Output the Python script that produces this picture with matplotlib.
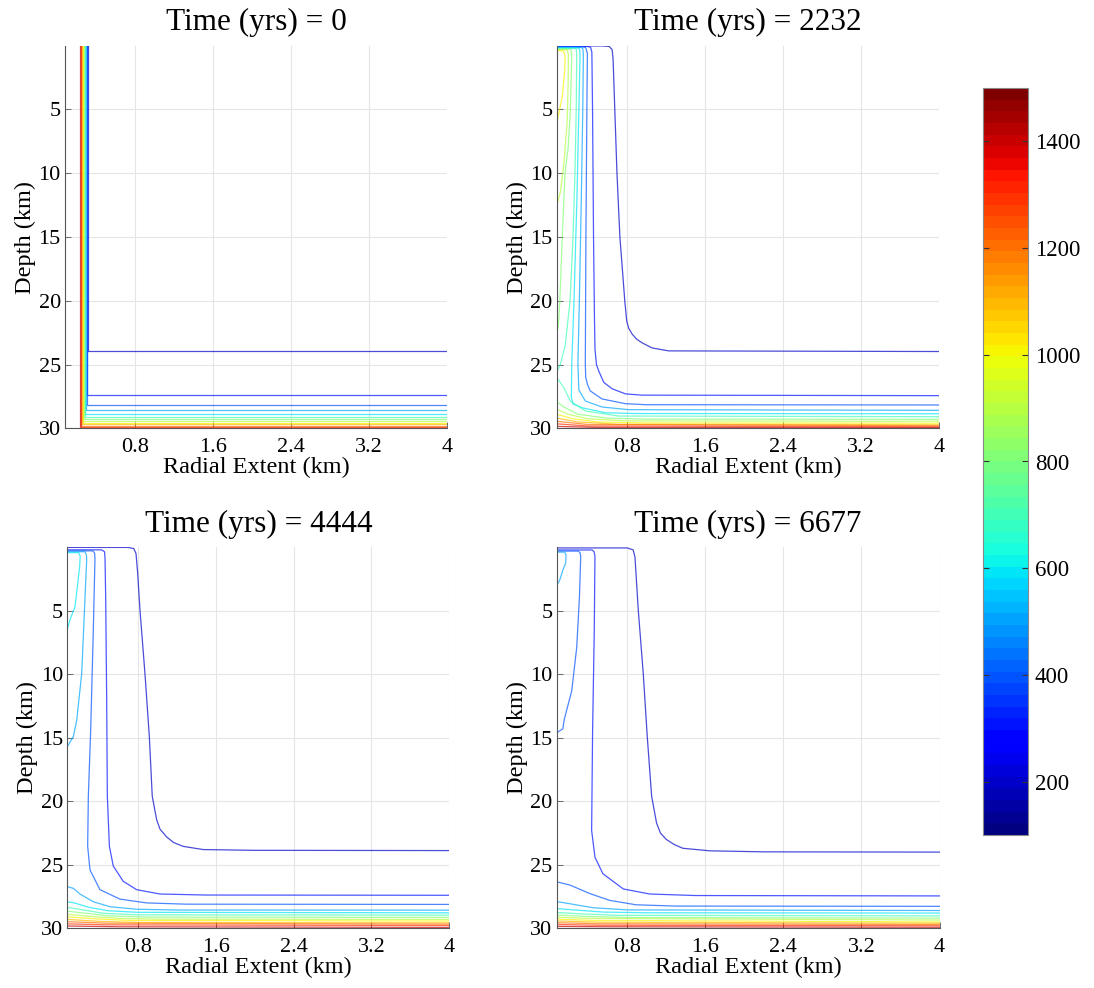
import matplotlib
matplotlib.use('Agg')
import matplotlib.pyplot as plt
from matplotlib.colors import Normalize
from matplotlib.cm import ScalarMappable

plt.rcParams['font.family'] = ['Liberation Serif', 'DejaVu Serif']

# temperature contour levels and colour scale
LEVELS = [200, 300, 400, 500, 600, 700, 800, 900, 1000, 1100, 1200, 1300, 1400]
CLIM = (100, 1500)
CBAR_TICKS = [200, 400, 600, 800, 1000, 1200, 1400]
TIMES = [0, 2232, 4444, 6677]
XTICKS = [0.8, 1.6, 2.4, 3.2, 4]
YTICKS = [5, 10, 15, 20, 25, 30]

# t = 0: every isotherm is an L (dike wall, then flat layer at depth)
T0_WALL_X = [0.320, 0.313, 0.306, 0.299, 0.292, 0.285, 0.278,
             0.271, 0.264, 0.257, 0.250, 0.243, 0.236]
T0_FLAT_D = [23.9, 27.35, 28.15, 28.55, 28.85, 29.1, 29.3,
             29.45, 29.6, 29.7, 29.8, 29.88, 29.95]

# t = 2232 yrs: (level, radial km, depth km)
T2232_LINES = [
    (200, [0.083, 0.55, 0.62, 0.65, 0.66, 0.70, 0.73, 0.78, 0.80, 0.82, 0.854, 0.90, 0.957, 1.06, 1.23, 4.0],
          [0.02, 0.02, 0.06, 0.3, 1.0, 10, 15, 20, 21.6, 22.15, 22.6, 23.0, 23.3, 23.7, 23.93, 23.98]),
    (300, [0.083, 0.40, 0.43, 0.443, 0.45, 0.46, 0.47, 0.475, 0.49, 0.513, 0.565, 0.65, 0.786, 0.957, 4.0],
          [0.06, 0.06, 0.12, 0.5, 5, 15, 21.6, 23.8, 25.0, 25.5, 26.4, 26.9, 27.3, 27.4, 27.44]),
    (400, [0.083, 0.36, 0.38, 0.397, 0.392, 0.382, 0.376, 0.38, 0.40, 0.427, 0.547, 0.786, 1.0, 4.0],
          [0.10, 0.10, 0.16, 0.6, 5, 15, 25.0, 26.0, 26.6, 27.07, 27.7, 28.07, 28.15, 28.17]),
    (500, [0.083, 0.33, 0.35, 0.356, 0.35, 0.335, 0.315, 0.30, 0.31, 0.376, 0.547, 0.82, 4.0],
          [0.14, 0.14, 0.2, 0.7, 5, 12, 20, 25, 27.0, 27.86, 28.33, 28.54, 28.59]),
    (600, [0.083, 0.30, 0.317, 0.322, 0.31, 0.29, 0.26, 0.237, 0.233, 0.25, 0.343, 0.58, 0.9, 4.0],
          [0.18, 0.18, 0.25, 0.8, 5, 12, 20, 25, 27.6, 28.1, 28.39, 28.78, 28.84, 28.86]),
    (700, [0.083, 0.272, 0.285, 0.288, 0.283, 0.27, 0.25, 0.22, 0.17, 0.12, 0.083],
          [0.22, 0.22, 0.3, 0.9, 5, 10, 15, 20, 23.5, 25.0, 25.6]),
    (700, [0.083, 0.155, 0.222, 0.376, 0.718, 4.0],
          [26.0, 26.8, 27.86, 28.64, 29.04, 29.09]),
    (800, [0.083, 0.225, 0.237, 0.23, 0.22, 0.2, 0.168, 0.14, 0.115, 0.10, 0.083],
          [0.27, 0.27, 0.7, 3, 5.5, 8, 10, 15, 20, 22, 22.6]),
    (800, [0.083, 0.15, 0.3, 0.6, 1.0, 4.0],
          [27.9, 28.3, 28.9, 29.2, 29.28, 29.3]),
    (900, [0.083, 0.19, 0.203, 0.2, 0.19, 0.16, 0.12, 0.083],
          [0.32, 0.32, 0.7, 3, 6, 9, 11.5, 12.6]),
    (900, [0.083, 0.2, 0.4, 0.8, 4.0],
          [28.5, 28.9, 29.25, 29.42, 29.45]),
    (1000, [0.083, 0.15, 0.169, 0.165, 0.14, 0.083],
           [0.38, 0.4, 0.8, 2, 4, 6.1]),
    (1000, [0.083, 0.25, 0.5, 1.0, 4.0],
           [28.9, 29.25, 29.5, 29.58, 29.6]),
    (1100, [0.083, 0.3, 0.7, 4.0], [29.2, 29.5, 29.68, 29.72]),
    (1200, [0.083, 0.4, 4.0], [29.45, 29.7, 29.8]),
    (1300, [0.083, 0.4, 4.0], [29.65, 29.82, 29.88]),
    (1400, [0.083, 0.5, 4.0], [29.85, 29.93, 29.95]),
]

# t = 4444 yrs
T4444_LINES = [
    (200, [0.078, 0.70, 0.76, 0.783, 0.80, 0.824, 0.875, 0.92, 0.95, 0.995, 1.03, 1.097, 1.17, 1.268, 1.473, 2.0, 4.0],
          [0.01, 0.01, 0.1, 0.48, 2, 4.95, 9.93, 14.9, 19.6, 21.45, 22.2, 22.8, 23.25, 23.55, 23.8, 23.86, 23.88]),
    (300, [0.078, 0.43, 0.46, 0.465, 0.472, 0.482, 0.489, 0.51, 0.55, 0.652, 0.79, 1.03, 1.5, 4.0],
          [0.2, 0.2, 0.35, 0.8, 3.94, 11.8, 19.6, 23.55, 25.1, 26.3, 26.96, 27.3, 27.38, 27.4]),
    (400, [0.078, 0.34, 0.358, 0.362, 0.345, 0.318, 0.294, 0.287, 0.311, 0.413, 0.618, 0.89, 1.3, 4.0],
          [0.28, 0.28, 0.45, 0.9, 6.5, 14.4, 19.6, 23.55, 25.4, 26.96, 27.7, 28.0, 28.1, 28.12]),
    (500, [0.078, 0.26, 0.275, 0.277, 0.26, 0.226, 0.175, 0.14, 0.078],
          [0.35, 0.35, 0.6, 1.0, 3.94, 9.93, 13.6, 14.9, 15.7]),
    (500, [0.078, 0.14, 0.208, 0.345, 0.516, 0.79, 1.2, 4.0],
          [26.73, 26.85, 27.3, 27.91, 28.3, 28.5, 28.56, 28.57]),
    (600, [0.078, 0.195, 0.21, 0.205, 0.157, 0.105, 0.078],
          [0.42, 0.42, 0.7, 1.5, 4.7, 5.7, 6.5]),
    (600, [0.078, 0.15, 0.3, 0.5, 0.8, 4.0], [27.91, 28.0, 28.35, 28.62, 28.74, 28.78]),
    (700, [0.078, 0.2, 0.45, 0.8, 4.0], [28.35, 28.5, 28.82, 28.94, 28.96]),
    (800, [0.078, 0.25, 0.5, 0.9, 4.0], [28.65, 28.8, 29.02, 29.12, 29.14]),
    (900, [0.078, 0.3, 0.6, 1.0, 4.0], [28.9, 29.05, 29.22, 29.28, 29.3]),
    (1000, [0.078, 0.35, 0.7, 4.0], [29.1, 29.25, 29.38, 29.43]),
    (1100, [0.078, 0.4, 0.8, 4.0], [29.3, 29.45, 29.54, 29.57]),
    (1200, [0.078, 0.5, 4.0], [29.48, 29.6, 29.67]),
    (1300, [0.078, 0.5, 4.0], [29.65, 29.73, 29.78]),
    (1400, [0.078, 0.6, 4.0], [29.82, 29.88, 29.93]),
]

# t = 6677 yrs
T6677_LINES = [
    (200, [0.077, 0.80, 0.86, 0.879, 0.913, 0.964, 1.005, 1.05, 1.10, 1.14, 1.20, 1.28, 1.37, 1.646, 2.2, 4.0],
          [0.05, 0.05, 0.2, 0.75, 4.95, 9.93, 14.9, 19.6, 21.7, 22.5, 23.0, 23.4, 23.7, 23.9, 23.98, 24.0]),
    (300, [0.077, 0.44, 0.46, 0.469, 0.462, 0.445, 0.435, 0.469, 0.55, 0.759, 1.03, 1.5, 4.0],
          [0.21, 0.21, 0.35, 0.69, 6.5, 14.4, 22.3, 24.4, 25.7, 26.9, 27.3, 27.42, 27.45]),
    (400, [0.077, 0.30, 0.318, 0.323, 0.31, 0.282, 0.231, 0.153, 0.14, 0.077],
          [0.3, 0.3, 0.45, 0.75, 3.94, 7.9, 11.3, 13.6, 14.3, 14.6]),
    (400, [0.077, 0.214, 0.418, 0.62, 0.89, 1.3, 4.0],
          [26.34, 26.6, 27.27, 27.8, 28.15, 28.25, 28.27]),
    (500, [0.077, 0.16, 0.172, 0.17, 0.14, 0.107, 0.077],
          [0.38, 0.38, 0.6, 1.2, 1.8, 2.6, 3.0]),
    (500, [0.077, 0.2, 0.45, 0.8, 4.0], [27.9, 28.05, 28.38, 28.55, 28.6]),
    (600, [0.077, 0.25, 0.55, 1.0, 4.0], [28.45, 28.55, 28.72, 28.78, 28.8]),
    (700, [0.077, 0.3, 0.7, 4.0], [28.75, 28.85, 28.98, 29.02]),
    (800, [0.077, 0.35, 0.8, 4.0], [28.95, 29.05, 29.15, 29.2]),
    (900, [0.077, 0.4, 4.0], [29.12, 29.22, 29.35]),
    (1000, [0.077, 0.45, 4.0], [29.28, 29.38, 29.5]),
    (1100, [0.077, 0.5, 4.0], [29.42, 29.52, 29.6]),
    (1200, [0.077, 0.5, 4.0], [29.56, 29.64, 29.7]),
    (1300, [0.077, 0.5, 4.0], [29.7, 29.76, 29.8]),
    (1400, [0.077, 0.6, 4.0], [29.85, 29.88, 29.92]),
]

T0_LINES = [(lev, [xw, xw, 4.0], [0.0, d, d])
            for lev, xw, d in zip(LEVELS, T0_WALL_X, T0_FLAT_D)]

W, H = 1094, 988
fig = plt.figure(figsize=(W / 100, H / 100), dpi=100)
cmap = plt.get_cmap('jet', 64)
norm = Normalize(*CLIM)


def px_axes(l, t, r, b):
    return fig.add_axes([l / W, 1 - b / H, (r - l) / W, (b - t) / H])


boxes = [(65, 45.7, 447, 428.3), (556.7, 45.7, 939.3, 428.3),
         (67.3, 547.3, 449.4, 928.3), (556.7, 547.3, 939.5, 928.3)]
panels = [T0_LINES, T2232_LINES, T4444_LINES, T6677_LINES]
xmins = [0.083, 0.083, 0.078, 0.077]

for box, lines, t, x0 in zip(boxes, panels, TIMES, xmins):
    ax = px_axes(*box)
    for lev, xs, ds in lines:
        ax.plot(xs, ds, color=cmap(norm(lev)), lw=0.9, alpha=0.7,
                solid_joinstyle='round')
    ax.set_xlim(x0, 4.0)
    ax.set_ylim(30, 0)
    ax.set_xticks(XTICKS)
    ax.set_xticklabels(['0.8', '1.6', '2.4', '3.2', '4'])
    ax.set_yticks(YTICKS)
    ax.grid(True, color='#e6e6e6', lw=0.8)
    ax.set_axisbelow(True)
    for s in ('top', 'right'):
        ax.spines[s].set_visible(False)
    for s in ('left', 'bottom'):
        ax.spines[s].set_color('#555555')
        ax.spines[s].set_linewidth(0.8)
    ax.tick_params(direction='in', length=4, width=0.6, color='#555555',
                   labelsize=16)
    ax.tick_params(axis='x', pad=7)
    ax.tick_params(axis='y', pad=3)
    ax.set_title(f'Time (yrs) = {t}', fontsize=22.5, pad=11)
    ax.set_xlabel('Radial Extent (km)', fontsize=17.5, labelpad=0)
    ax.set_ylabel('Depth (km)', fontsize=17.5, labelpad=2)

cax = px_axes(983, 88, 1028, 835)
cb = fig.colorbar(ScalarMappable(norm=norm, cmap=cmap), cax=cax,
                  ticks=CBAR_TICKS)
cb.outline.set_edgecolor('#888888')
cb.outline.set_linewidth(0.8)
cax.tick_params(direction='in', length=4, width=0.8, color='#333333',
                labelsize=16.5, left=True, right=True, pad=5)

fig.savefig('out.png', dpi=100)
